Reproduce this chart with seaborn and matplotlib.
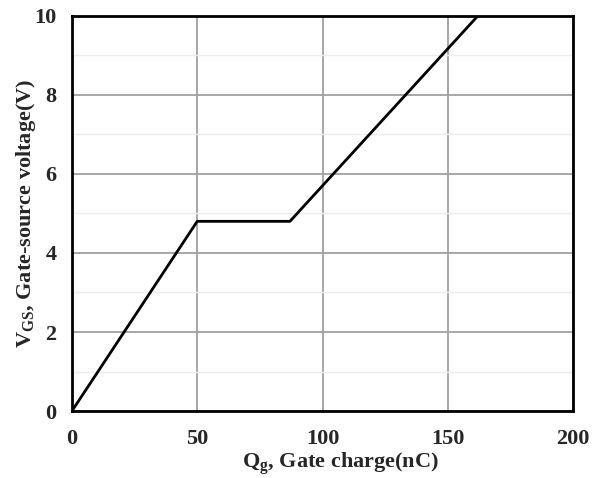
import matplotlib
matplotlib.use("Agg")
import matplotlib.pyplot as plt
import seaborn as sns
import pandas as pd
from matplotlib.ticker import MultipleLocator

# gate charge curve
gate_charge = [0, 50, 87, 162]
gate_voltage = [0, 4.8, 4.8, 10]

x_ticks = [0, 50, 100, 150, 200]
y_ticks = [0, 2, 4, 6, 8, 10]


def main():
    sns.set_theme(style="white")
    plt.rcParams["font.family"] = ["Liberation Serif", "DejaVu Serif"]
    plt.rcParams["font.weight"] = "bold"
    plt.rcParams["mathtext.fontset"] = "custom"
    plt.rcParams["mathtext.rm"] = "Liberation Serif:bold"
    plt.rcParams["mathtext.bf"] = "Liberation Serif:bold"
    plt.rcParams["mathtext.it"] = "Liberation Serif:bold"

    df = pd.DataFrame({"Qg": gate_charge, "Vgs": gate_voltage})

    fig = plt.figure(figsize=(6.04, 4.78), dpi=100)
    ax = fig.add_axes([0.119, 0.140, 0.830, 0.827])

    ax.yaxis.set_minor_locator(MultipleLocator(1))
    ax.grid(which="major", color="#a0a0a0", linewidth=1.3)
    ax.grid(which="minor", axis="y", color="#ededed", linewidth=1.0)
    ax.set_axisbelow(True)

    sns.lineplot(data=df, x="Qg", y="Vgs", color="black", linewidth=2.0, ax=ax)

    ax.set_xlim(0, 200)
    ax.set_ylim(0, 10)
    ax.set_xticks(x_ticks)
    ax.set_yticks(y_ticks)
    ax.tick_params(axis="both", which="both", length=0, labelsize=16)
    ax.tick_params(axis="x", pad=13)
    ax.tick_params(axis="y", pad=11)
    for lbl in ax.get_xticklabels() + ax.get_yticklabels():
        lbl.set_fontweight("bold")

    for s in ax.spines.values():
        s.set_visible(True)
        s.set_color("black")
        s.set_linewidth(2.0)

    ax.set_xlabel(r"$\mathrm{Q_g}$, Gate charge(nC)", fontsize=16, fontweight="bold")
    ax.set_ylabel(r"$\mathrm{V_{GS}}$, Gate-source voltage(V)", fontsize=16, fontweight="bold")
    ax.xaxis.set_label_coords(0.535, -0.1)
    ax.yaxis.set_label_coords(-0.068, 0.5)

    fig.savefig("out.png", dpi=100)


if __name__ == "__main__":
    main()
